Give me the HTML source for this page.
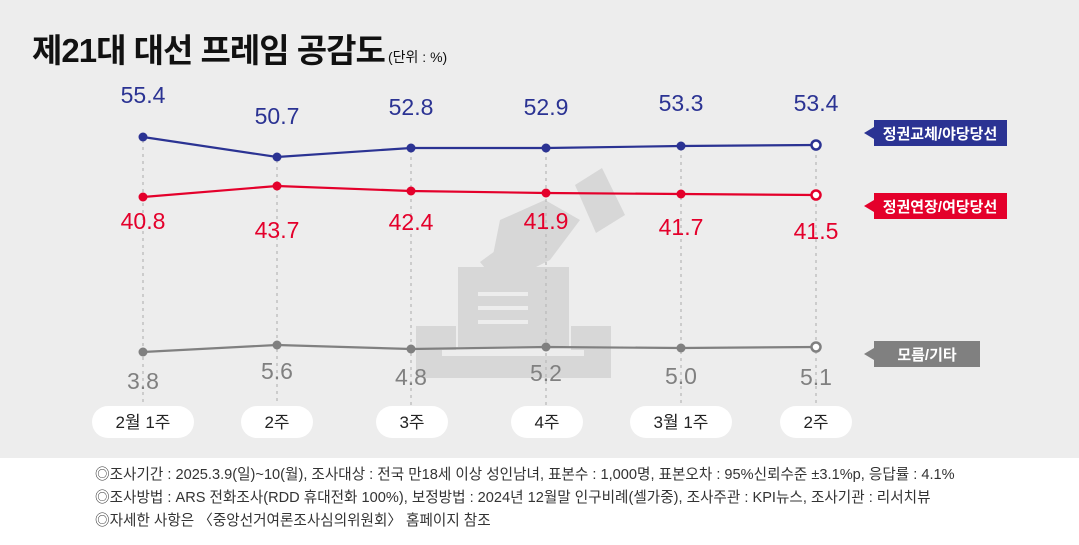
<!DOCTYPE html>
<html><head><meta charset="utf-8"><style>
body{margin:0;width:1079px;height:540px;overflow:hidden;font-family:"Liberation Sans","Noto Sans CJK KR",sans-serif;}
</style></head><body>
<svg width="1079" height="540" viewBox="0 0 1079 540" xmlns="http://www.w3.org/2000/svg" font-family="Liberation Sans, Noto Sans CJK KR, sans-serif">
<rect x="0" y="0" width="1079" height="458" fill="#ededed"/>
<rect x="0" y="458" width="1079" height="82" fill="#ffffff"/>
<text x="32" y="62" font-size="33" font-weight="bold" fill="#111" letter-spacing="-1">제21대 대선 프레임 공감도</text>
<text x="388" y="62" font-size="14" fill="#111">(단위 : %)</text>
<g fill="#d7d7d7">
<rect x="416" y="326" width="40" height="52"/>
<rect x="571" y="326" width="40" height="52"/>
<rect x="416" y="355" width="195" height="23"/>
<rect x="458" y="267" width="111" height="80"/>
<polygon points="500,220 545,200 580,220 550,260 520,275 490,270"/>
<polygon points="575,185 602,168 625,215 596,233"/>
<polygon points="480,262 510,240 530,260 520,290 500,296 495,280"/>
</g>
<g fill="#ededed">
<rect x="478" y="292" width="50" height="4"/><rect x="478" y="306" width="50" height="4"/><rect x="478" y="320" width="50" height="4"/>
<rect x="442" y="350" width="142" height="6"/>
</g>
<g stroke="#bbb" stroke-width="1.3" stroke-dasharray="3,4">
<line x1="143" y1="140" x2="143" y2="405"/><line x1="277" y1="160" x2="277" y2="405"/>
<line x1="411" y1="150" x2="411" y2="405"/><line x1="546" y1="150" x2="546" y2="405"/>
<line x1="681" y1="148" x2="681" y2="405"/><line x1="816" y1="148" x2="816" y2="405"/>
</g>
<polyline points="143,137 277,157 411,148 546,148 681,146 816,145" fill="none" stroke="#2b3393" stroke-width="2.2"/>
<polyline points="143,197 277,186 411,191 546,193 681,194 816,195" fill="none" stroke="#e4002b" stroke-width="2.2"/>
<polyline points="143,352 277,345 411,349 546,347 681,348 816,347" fill="none" stroke="#808080" stroke-width="2.2"/>
<g fill="#2b3393"><circle cx="143" cy="137" r="4.5"/><circle cx="277" cy="157" r="4.5"/><circle cx="411" cy="148" r="4.5"/><circle cx="546" cy="148" r="4.5"/><circle cx="681" cy="146" r="4.5"/></g>
<circle cx="816" cy="145" r="4.5" fill="#fff" stroke="#2b3393" stroke-width="2.5"/>
<g fill="#e4002b"><circle cx="143" cy="197" r="4.5"/><circle cx="277" cy="186" r="4.5"/><circle cx="411" cy="191" r="4.5"/><circle cx="546" cy="193" r="4.5"/><circle cx="681" cy="194" r="4.5"/></g>
<circle cx="816" cy="195" r="4.5" fill="#fff" stroke="#e4002b" stroke-width="2.5"/>
<g fill="#808080"><circle cx="143" cy="352" r="4.5"/><circle cx="277" cy="345" r="4.5"/><circle cx="411" cy="349" r="4.5"/><circle cx="546" cy="347" r="4.5"/><circle cx="681" cy="348" r="4.5"/></g>
<circle cx="816" cy="347" r="4.5" fill="#fff" stroke="#808080" stroke-width="2.5"/>
<g font-size="23" text-anchor="middle" fill="#2b3393">
<text x="143" y="103">55.4</text><text x="277" y="124">50.7</text><text x="411" y="115">52.8</text>
<text x="546" y="115">52.9</text><text x="681" y="111">53.3</text><text x="816" y="111">53.4</text>
</g>
<g font-size="23" text-anchor="middle" fill="#e4002b">
<text x="143" y="229">40.8</text><text x="277" y="238">43.7</text><text x="411" y="230">42.4</text>
<text x="546" y="229">41.9</text><text x="681" y="235">41.7</text><text x="816" y="239">41.5</text>
</g>
<g font-size="23" text-anchor="middle" fill="#808080">
<text x="143" y="389">3.8</text><text x="277" y="379">5.6</text><text x="411" y="385">4.8</text>
<text x="546" y="381">5.2</text><text x="681" y="384">5.0</text><text x="816" y="385">5.1</text>
</g>
<rect x="874" y="120" width="133" height="26" fill="#2b3393"/><polygon points="874,127 864,133 874,139" fill="#2b3393"/>
<text x="940" y="139" font-size="15" font-weight="bold" fill="#fff" text-anchor="middle">정권교체/야당당선</text>
<rect x="874" y="193" width="133" height="26" fill="#e4002b"/><polygon points="874,200 864,206 874,212" fill="#e4002b"/>
<text x="940" y="212" font-size="15" font-weight="bold" fill="#fff" text-anchor="middle">정권연장/여당당선</text>
<rect x="874" y="341" width="106" height="26" fill="#808080"/><polygon points="874,348 864,354 874,360" fill="#808080"/>
<text x="927" y="360" font-size="15" font-weight="bold" fill="#fff" text-anchor="middle">모름/기타</text>
<g fill="#fff">
<rect x="92" y="406" width="102" height="32" rx="16"/><rect x="241" y="406" width="72" height="32" rx="16"/>
<rect x="376" y="406" width="72" height="32" rx="16"/><rect x="511" y="406" width="72" height="32" rx="16"/>
<rect x="630" y="406" width="102" height="32" rx="16"/><rect x="780" y="406" width="72" height="32" rx="16"/>
</g>
<g font-size="17" text-anchor="middle" fill="#222">
<text x="143" y="428">2월 1주</text><text x="277" y="428">2주</text><text x="412" y="428">3주</text>
<text x="547" y="428">4주</text><text x="681" y="428">3월 1주</text><text x="816" y="428">2주</text>
</g>
<g font-size="14.6" fill="#333">
<text x="95" y="479">◎조사기간 : 2025.3.9(일)~10(월), 조사대상 : 전국 만18세 이상 성인남녀, 표본수 : 1,000명, 표본오차 : 95%신뢰수준 ±3.1%p, 응답률 : 4.1%</text>
<text x="95" y="502">◎조사방법 : ARS 전화조사(RDD 휴대전화 100%), 보정방법 : 2024년 12월말 인구비례(셀가중), 조사주관 : KPI뉴스, 조사기관 : 리서치뷰</text>
<text x="95" y="525">◎자세한 사항은 〈중앙선거여론조사심의위원회〉 홈페이지 참조</text>
</g>
</svg>
</body></html>
